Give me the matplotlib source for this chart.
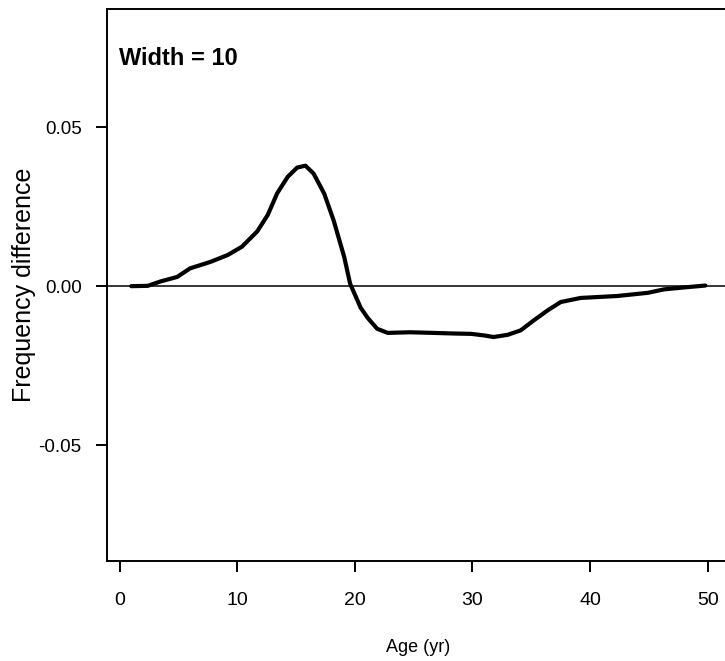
import matplotlib
matplotlib.use("Agg")
import matplotlib.pyplot as plt

# values
age = [1.0, 2.4, 3.5, 4.9, 6.0, 7.7, 9.2, 10.4, 11.7, 12.6, 13.4, 14.3,
       15.1, 15.8, 16.5, 17.4, 18.2, 19.1, 19.6, 20.5, 21.1, 21.9, 22.8,
       24.7, 26.7, 28.5, 29.9, 31.0, 31.8, 33.0, 34.1, 35.2, 36.4, 37.5,
       39.2, 42.3, 44.9, 46.3, 48.0, 49.8]
freq_diff = [0.0, 0.0001, 0.0015, 0.0029, 0.0056, 0.0076, 0.0098, 0.0124,
             0.0172, 0.0224, 0.0292, 0.0344, 0.0373, 0.0379, 0.0354, 0.0291,
             0.0207, 0.0092, 0.0008, -0.0068, -0.0100, -0.0134, -0.0147,
             -0.0145, -0.0147, -0.0149, -0.0150, -0.0155, -0.0160, -0.0153,
             -0.0139, -0.0108, -0.0076, -0.0050, -0.0037, -0.0031, -0.0021,
             -0.0010, -0.0004, 0.0002]
x_ticks = [0, 10, 20, 30, 40, 50]
y_ticks = [-0.05, 0.0, 0.05]
y_tick_labels = ["-0.05", "0.00", "0.05"]

plt.rcParams['font.family'] = ['Liberation Sans', 'DejaVu Sans']

fig = plt.figure(figsize=(7.25, 6.61), dpi=100)
ax = fig.add_axes([0.147, 0.151, 0.860, 0.836])

ax.axhline(0, color='black', linewidth=1.1, zorder=1)
ax.plot(age, freq_diff, color='black', linewidth=3.0,
        solid_joinstyle='round', solid_capstyle='round', zorder=2)

ax.set_xlim(-1.1, 51.9)
ax.set_ylim(-0.0865, 0.0873)
ax.set_xticks(x_ticks)
ax.set_yticks(y_ticks)
ax.set_yticklabels(y_tick_labels)

for s in ax.spines.values():
    s.set_linewidth(1.4)
ax.tick_params(axis='both', direction='out', length=8, width=1.4)
ax.tick_params(axis='x', pad=14, labelsize=14)
ax.tick_params(axis='y', pad=10, labelsize=13.5)

ax.set_xlabel('Age (yr)', fontsize=13, labelpad=22)
ax.set_ylabel('Frequency difference', fontsize=18, labelpad=2)

ax.text(0.02, 0.91, 'Width = 10', transform=ax.transAxes,
        fontsize=17, fontweight='bold', ha='left', va='center')

fig.savefig('out.png', dpi=100)
